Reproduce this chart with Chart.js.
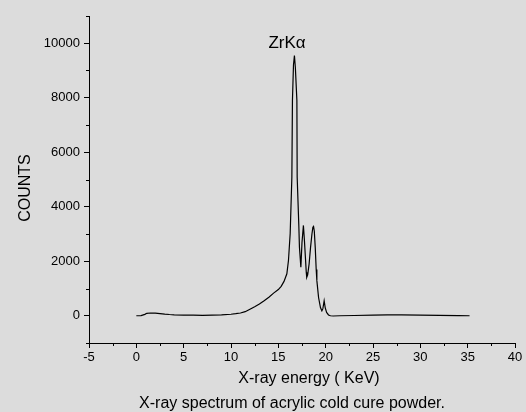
<!DOCTYPE html>
<html>
<head>
<meta charset="utf-8">
<script src="https://cdn.jsdelivr.net/npm/chart.js@4"></script>
<style>
  body { margin: 0; background: #dcdcdc; }
  canvas { display: block; }
</style>
</head>
<body>
<canvas id="myChart" width="526" height="412"></canvas>
<script>
// energy (keV) and counts
const energia = [0, 0.5, 0.9, 1.1, 1.5, 2.0, 2.5, 3.0, 3.5, 4.0, 5, 6, 7, 8, 9, 10, 10.5, 11, 11.5, 12, 12.5, 13, 13.5, 14, 14.5, 15, 15.3, 15.6, 15.9, 16.07, 16.25, 16.43, 16.49, 16.6, 16.7, 16.8, 16.96, 16.99, 17.17, 17.23, 17.38, 17.5, 17.65, 17.75, 17.85, 17.95, 18.0, 18.1, 18.25, 18.4, 18.55, 18.65, 18.72, 18.8, 18.9, 19.0, 19.07, 19.25, 19.45, 19.6, 19.7, 19.84, 19.95, 20.1, 20.3, 20.5, 20.8, 21.5, 23, 25, 26.5, 28, 30, 32, 34, 35.2];
const cuentas = [0, 5, 50, 90, 100, 95, 80, 60, 45, 35, 25, 20, 15, 20, 30, 55, 75, 100, 150, 240, 330, 430, 550, 680, 830, 960, 1080, 1260, 1540, 2025, 3010, 5090, 7900, 9200, 9550, 9100, 7900, 5090, 3250, 2515, 1780, 2700, 3315, 2800, 2200, 1600, 1410, 1500, 1900, 2500, 3000, 3250, 3280, 3100, 2500, 1700, 1290, 670, 300, 180, 250, 550, 300, 120, 30, 0, -10, 0, 10, 20, 35, 30, 25, 15, 5, 0];

const xTicks = [-5, 0, 5, 10, 15, 20, 25, 30, 35, 40];
const xMinor = [-2.5, 2.5, 7.5, 12.5, 17.5, 22.5, 27.5, 32.5, 37.5];
const yTicks = [0, 2000, 4000, 6000, 8000, 10000];
const yMinor = [-1000, 1000, 3000, 5000, 7000, 9000, 11000];

const fuente = "'Liberation Sans', Arial, sans-serif";
const ctx = document.getElementById("myChart");

const puntos = energia.map((e, i) => ({ x: e, y: cuentas[i] }));

// minor ticks + texts
const extras = {
  id: "extras",
  afterDraw(chart) {
    const c = chart.ctx;
    const sx = chart.scales.x;
    const sy = chart.scales.y;
    const area = chart.chartArea;
    c.save();
    c.strokeStyle = "#000";
    c.lineWidth = 1;
    c.beginPath();
    xMinor.forEach((v) => {
      const px = Math.round(sx.getPixelForValue(v)) + 0.5;
      c.moveTo(px, area.bottom);
      c.lineTo(px, area.bottom + 3);
    });
    yMinor.forEach((v) => {
      const py = Math.round(sy.getPixelForValue(v)) + 0.5;
      c.moveTo(area.left, py);
      c.lineTo(area.left - 3, py);
    });
    c.stroke();

    c.fillStyle = "#000";
    c.textAlign = "center";
    c.textBaseline = "alphabetic";
    c.font = "17px " + fuente;
    c.fillText("ZrKα", 287, 48);
    c.font = "16px " + fuente;
    c.fillText("X-ray energy ( KeV)", 309, 383);
    c.fillText("X-ray spectrum of acrylic cold cure powder.", 292, 408);
    c.translate(30, 188);
    c.rotate(-Math.PI / 2);
    c.fillText("COUNTS", 0, 0);
    c.restore();
  },
};

new Chart(ctx, {
  type: "scatter",
  data: {
    datasets: [
      {
        data: puntos,
        showLine: true,
        borderColor: "#000",
        borderWidth: 1.2,
        pointRadius: 0,
        tension: 0,
      },
    ],
  },
  options: {
    responsive: false,
    animation: false,
    layout: { padding: { top: 16, right: 11, left: 0, bottom: 0 } },
    plugins: { legend: { display: false }, tooltip: { enabled: false } },
    scales: {
      x: {
        type: "linear",
        min: -5,
        max: 40,
        afterBuildTicks: (s) => { s.ticks = xTicks.map((v) => ({ value: v })); },
        afterFit: (s) => { s.height = 69; },
        border: { display: true, color: "#000", width: 1 },
        grid: { drawOnChartArea: false, drawTicks: true, tickLength: 5, tickColor: "#000" },
        ticks: { color: "#000", font: { family: fuente, size: 13 }, padding: 2, maxRotation: 0, callback: (v) => String(v) },
      },
      y: {
        type: "linear",
        min: -1000,
        max: 11000,
        afterBuildTicks: (s) => { s.ticks = yTicks.map((v) => ({ value: v })); },
        afterFit: (s) => { s.width = 89; },
        border: { display: true, color: "#000", width: 1 },
        grid: { drawOnChartArea: false, drawTicks: true, tickLength: 5, tickColor: "#000" },
        ticks: { color: "#000", font: { family: fuente, size: 13 }, padding: 4, callback: (v) => String(v) },
      },
    },
  },
  plugins: [extras],
});
</script>
</body>
</html>
